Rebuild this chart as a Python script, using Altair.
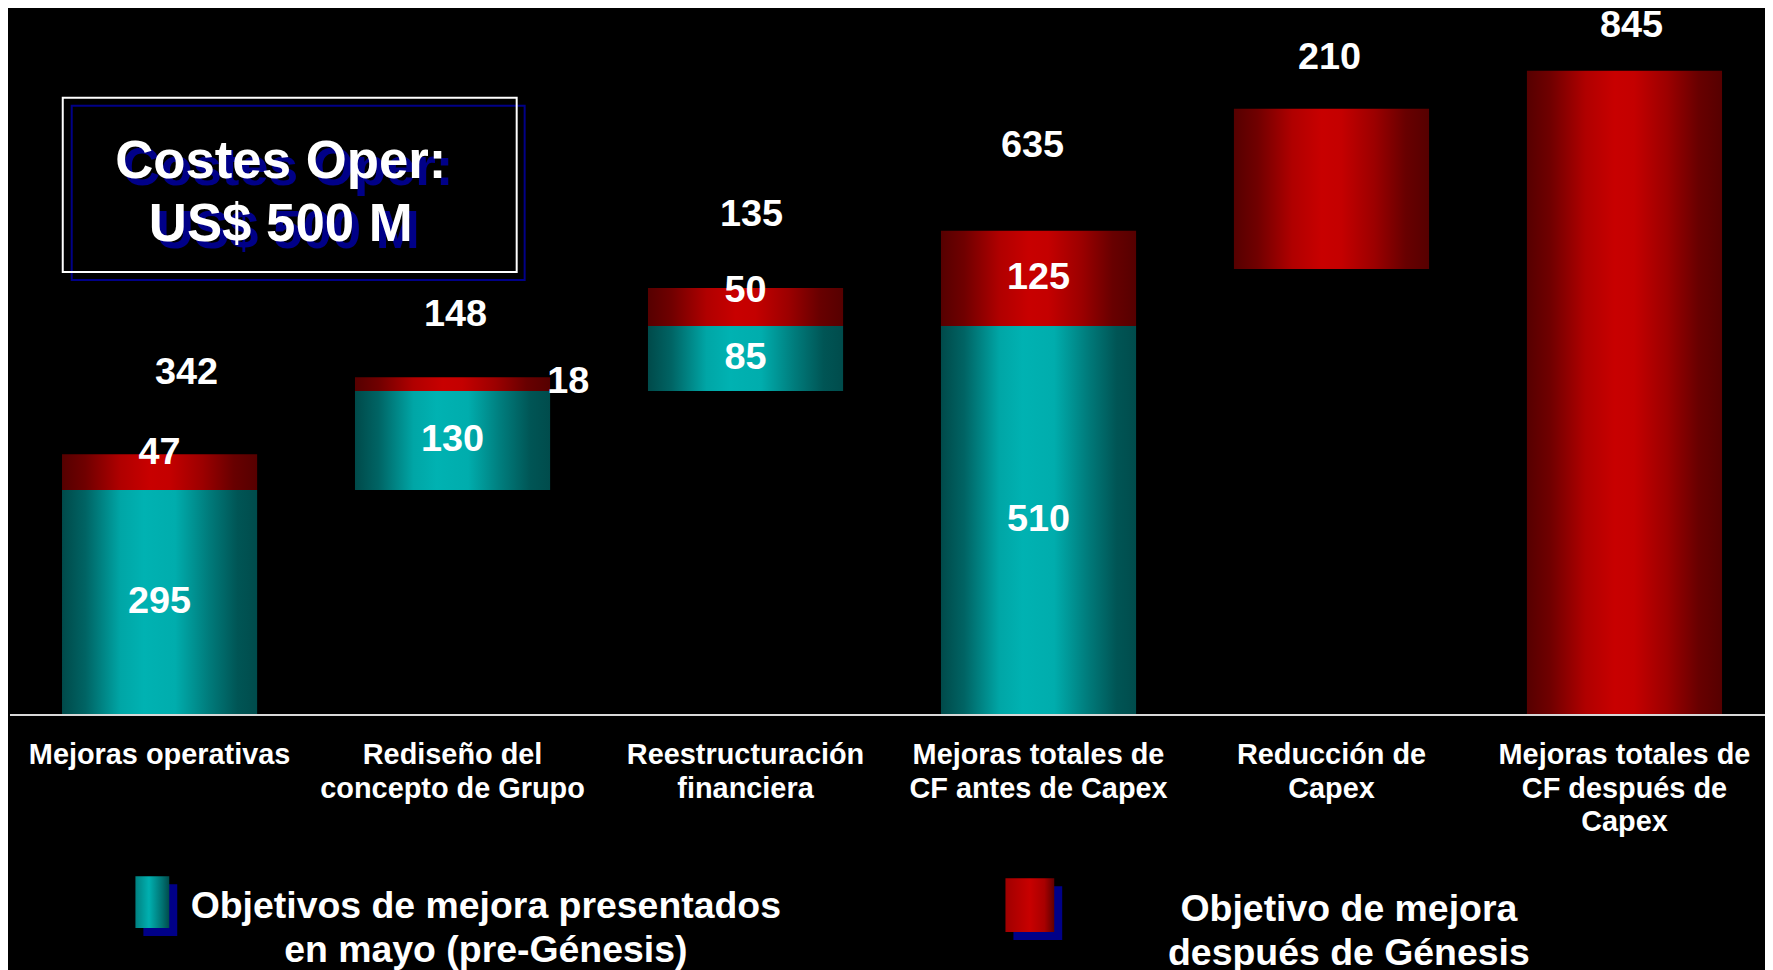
import altair as alt
import pandas as pd

# ---------------- data ----------------
categories = [
    "Mejoras operativas",
    "Rediseño del\nconcepto de Grupo",
    "Reestructuración\nfinanciera",
    "Mejoras totales de\nCF antes de Capex",
    "Reducción de\nCapex",
    "Mejoras totales de\nCF después de\nCapex",
]
teal_base = [0, 295, 425, 0]
teal_values = [295, 130, 85, 510]
red_base = [295, 425, 510, 510, 585, 0]
red_values = [47, 18, 50, 125, 210, 845]
totals = [342, 148, 135, 635, 210, 845]
legend_labels = [
    "Objetivos de mejora presentados\nen mayo (pre-Génesis)",
    "Objetivo de mejora\ndespués de Génesis",
]
box_text = "Costes Oper:\nUS$ 500 M"

# ---------------- styles / layout (view origin = page (8, 8)) ----------------
FONT = "Liberation Sans"
W, H = 1765, 962
base_px = 708          # y pixel of value 0 inside the view
px_per_unit = 0.766
y_dom = [-(H - base_px) / px_per_unit, base_px / px_per_unit]

total_dx = [27, 3, 6, -6, -2, 7]
total_dy = [-82, -62, -73, -85, -51, -45]
red_label_dy = [-19, None, -16, 0]

teal_grad = {
    "gradient": "linear", "x1": 0, "x2": 1, "y1": 0, "y2": 0,
    "stops": [
        {"offset": 0.0, "color": "#004a4a"},
        {"offset": 0.12, "color": "#006464"},
        {"offset": 0.3, "color": "#00a6a6"},
        {"offset": 0.42, "color": "#00b2b2"},
        {"offset": 0.58, "color": "#00adad"},
        {"offset": 0.75, "color": "#007c7c"},
        {"offset": 0.9, "color": "#005555"},
        {"offset": 1.0, "color": "#004c4c"},
    ],
}
red_grad = {
    "gradient": "linear", "x1": 0, "x2": 1, "y1": 0, "y2": 0,
    "stops": [
        {"offset": 0.0, "color": "#560000"},
        {"offset": 0.12, "color": "#700000"},
        {"offset": 0.3, "color": "#b00000"},
        {"offset": 0.45, "color": "#c80000"},
        {"offset": 0.55, "color": "#c40000"},
        {"offset": 0.72, "color": "#9c0000"},
        {"offset": 0.88, "color": "#680000"},
        {"offset": 1.0, "color": "#560000"},
    ],
}
teal_sw_grad = {
    "gradient": "linear", "x1": 0, "x2": 1, "y1": 0, "y2": 0,
    "stops": [
        {"offset": 0.0, "color": "#008080"},
        {"offset": 0.4, "color": "#00b0b0"},
        {"offset": 0.8, "color": "#007070"},
        {"offset": 1.0, "color": "#004c4c"},
    ],
}
red_sw_grad = {
    "gradient": "linear", "x1": 0, "x2": 1, "y1": 0, "y2": 0,
    "stops": [
        {"offset": 0.0, "color": "#a00000"},
        {"offset": 0.5, "color": "#c80000"},
        {"offset": 0.8, "color": "#a80000"},
        {"offset": 1.0, "color": "#600000"},
    ],
}
NAVY = "#000088"

# ---------------- tables ----------------
teal_df = pd.DataFrame({
    "cat": categories[:4],
    "base": teal_base,
    "end": [b + v for b, v in zip(teal_base, teal_values)],
    "value": teal_values,
})
teal_df["mid"] = (teal_df["base"] + teal_df["end"]) / 2
red_df = pd.DataFrame({
    "cat": categories,
    "base": red_base,
    "end": [b + v for b, v in zip(red_base, red_values)],
    "value": red_values,
})
red_df["mid"] = (red_df["base"] + red_df["end"]) / 2
tot_df = pd.DataFrame({"cat": categories, "total": totals, "top": red_df["end"]})
one = pd.DataFrame({"k": [0]})

xscale = alt.Scale(domain=categories, paddingInner=0.334, paddingOuter=0.1655, align=0.557)
yscale = alt.Scale(domain=y_dom, nice=False, zero=False)


def X():
    return alt.X("cat:N", scale=xscale, axis=None, sort=categories)


def Y(f):
    return alt.Y(f"{f}:Q", scale=yscale, axis=None)


layers = []

teal_bars = alt.Chart(teal_df).mark_bar(color=teal_grad, strokeWidth=0).encode(
    x=X(), y=Y("base"), y2="end:Q")
red_bars = alt.Chart(red_df).mark_bar(color=red_grad, strokeWidth=0).encode(
    x=X(), y=Y("base"), y2="end:Q")
layers += [teal_bars, red_bars]

txt = dict(font=FONT, fontWeight="bold", color="white", fontSize=38, baseline="middle")

# teal inner labels
layers.append(alt.Chart(teal_df).mark_text(**txt).encode(x=X(), y=Y("mid"), text="value:Q"))
# red inner labels
for i, dy in enumerate(red_label_dy):
    if dy is None:
        continue
    layers.append(alt.Chart(red_df.iloc[[i]]).mark_text(dy=dy, **txt).encode(
        x=X(), y=Y("mid"), text="value:Q"))
# the small "18" label to the right of its bar
layers.append(alt.Chart(red_df.iloc[[1]]).mark_text(
    align="left", dx=-3, dy=-2, **txt).encode(
    x=alt.X("cat:N", scale=xscale, axis=None, sort=categories, bandPosition=1),
    y=Y("mid"), text="value:Q"))
# totals above bars
for i in range(len(categories)):
    layers.append(alt.Chart(tot_df.iloc[[i]]).mark_text(
        dx=total_dx[i], dy=total_dy[i], **txt).encode(
        x=X(), y=Y("top"), text="total:Q"))

# baseline
layers.append(alt.Chart(one).mark_rule(color="#d8d8d8", strokeWidth=2).encode(
    y=alt.Y(datum=0, scale=yscale, axis=None), x=alt.value(2), x2=alt.value(W)))

# category labels
layers.append(alt.Chart(tot_df).mark_text(
    font=FONT, fontWeight="bold", color="white", fontSize=29, lineBreak="\n",
    lineHeight=34, baseline="alphabetic", align="center").encode(
    x=X(), y=alt.value(757), text="cat:N"))

# title box with shadow
layers.append(alt.Chart(one).mark_rect(fillOpacity=0, stroke=NAVY, strokeWidth=2).encode(
    x=alt.value(64), x2=alt.value(519), y=alt.value(96), y2=alt.value(271)))
layers.append(alt.Chart(one).mark_rect(fillOpacity=0, stroke="white", strokeWidth=2).encode(
    x=alt.value(55), x2=alt.value(511), y=alt.value(88), y2=alt.value(263)))
box_style = dict(font=FONT, fontWeight="bold", fontSize=53, lineBreak="\n",
                 lineHeight=63, baseline="alphabetic", align="center")
layers.append(alt.Chart(one).mark_text(color=NAVY, **box_style).encode(
    x=alt.value(281), y=alt.value(176), text=alt.value(box_text)))
layers.append(alt.Chart(one).mark_text(color="white", **box_style).encode(
    x=alt.value(274), y=alt.value(169), text=alt.value(box_text)))

# legend swatches
layers.append(alt.Chart(one).mark_rect(color=NAVY).encode(
    x=alt.value(136), x2=alt.value(170), y=alt.value(878), y2=alt.value(930)))
layers.append(alt.Chart(one).mark_rect(color=teal_sw_grad).encode(
    x=alt.value(128), x2=alt.value(162), y=alt.value(870), y2=alt.value(922)))
layers.append(alt.Chart(one).mark_rect(color=NAVY).encode(
    x=alt.value(1010), x2=alt.value(1059), y=alt.value(880), y2=alt.value(934)))
layers.append(alt.Chart(one).mark_rect(color=red_sw_grad).encode(
    x=alt.value(1002), x2=alt.value(1051), y=alt.value(872), y2=alt.value(926)))

leg_style = dict(font=FONT, fontWeight="bold", color="white", fontSize=37.6,
                 lineBreak="\n", lineHeight=44, baseline="alphabetic", align="center")
layers.append(alt.Chart(one).mark_text(**leg_style).encode(
    x=alt.value(480), y=alt.value(912), text=alt.value(legend_labels[0])))
layers.append(alt.Chart(one).mark_text(**leg_style).encode(
    x=alt.value(1347), y=alt.value(915), text=alt.value(legend_labels[1])))

chart = alt.layer(*layers).properties(
    width=W, height=H, autosize="none", padding=0
).configure(background="black").configure_view(strokeWidth=0)

chart.save("out.html", embed_options={"renderer": "svg", "actions": False})
